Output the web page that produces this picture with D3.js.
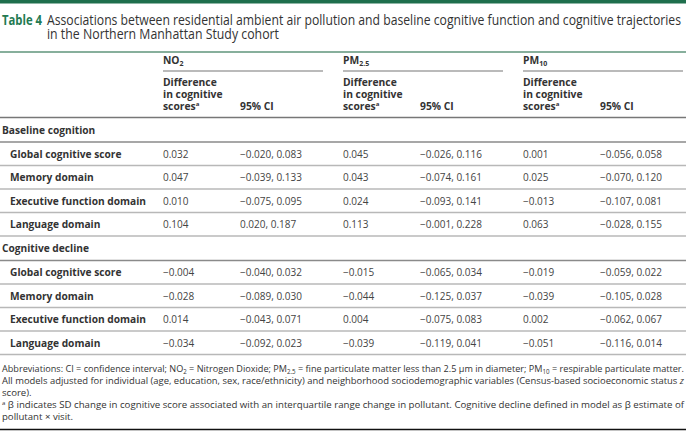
<!DOCTYPE html>
<html><head><meta charset="utf-8">
<script src="https://cdn.jsdelivr.net/npm/d3@7"></script>
<style>
html,body{margin:0;padding:0;background:#fff;}
svg{display:block;font-family:"Open Sans",sans-serif;}
</style></head>
<body>
<script>
// ---- data ----
const titleLabel = "Table 4";
const titleLines = ["Associations between residential ambient air pollution and baseline cognitive function and cognitive trajectories",
                    "in the Northern Manhattan Study cohort"];
const pollutants = [["NO", "2"], ["PM", "2.5"], ["PM", "10"]];
const sections = ["Baseline cognition", "Cognitive decline"];
const domains = ["Global cognitive score", "Memory domain", "Executive function domain", "Language domain"];
// estimates [section][domain]
const no2Est  = [[0.032, 0.047, 0.010, 0.104], [-0.004, -0.028, 0.014, -0.034]];
const no2Lo   = [[-0.020, -0.039, -0.075, 0.020], [-0.040, -0.089, -0.043, -0.092]];
const no2Hi   = [[0.083, 0.133, 0.095, 0.187], [0.032, 0.030, 0.071, 0.023]];
const pm25Est = [[0.045, 0.043, 0.024, 0.113], [-0.015, -0.044, 0.004, -0.039]];
const pm25Lo  = [[-0.026, -0.074, -0.093, -0.001], [-0.065, -0.125, -0.075, -0.119]];
const pm25Hi  = [[0.116, 0.161, 0.141, 0.228], [0.034, 0.037, 0.083, 0.041]];
const pm10Est = [[0.001, 0.025, -0.013, 0.063], [-0.019, -0.039, 0.002, -0.051]];
const pm10Lo  = [[-0.056, -0.070, -0.107, -0.028], [-0.059, -0.105, -0.062, -0.116]];
const pm10Hi  = [[0.058, 0.120, 0.081, 0.155], [0.022, 0.028, 0.067, 0.014]];
const colHeaders = [["Difference", "in cognitive", "scores"], ["95% CI"]];

const W = 686, H = 432;
const fmt = d3.format(".3f");
const series = [
  {est: no2Est, lo: no2Lo, hi: no2Hi},
  {est: pm25Est, lo: pm25Lo, hi: pm25Hi},
  {est: pm10Est, lo: pm10Lo, hi: pm10Hi}
];

const svg = d3.select("body").append("svg").attr("width", W).attr("height", H);

// scales
const xGroup = d3.scaleBand().domain(d3.range(pollutants.length)).range([163, 163 + 180 * 3]);
const xSub = d3.scaleOrdinal().domain(["est", "ci"]).range([0, 77]);

// top bar
svg.append("rect").attr("x", 0).attr("y", 0).attr("width", W).attr("height", 3.5).attr("fill", "#1f6f4d");

// title
svg.append("text").attr("x", 2).attr("y", 24.5).attr("font-size", 14.5).attr("font-weight", 700)
  .attr("fill", "#237a52").attr("textLength", 40).attr("lengthAdjust", "spacingAndGlyphs").text(titleLabel);
const tLen = [634, 232];
svg.selectAll("text.title").data(titleLines).join("text").attr("class", "title")
  .attr("x", 47).attr("y", (d, i) => 24.5 + i * 14.5).attr("font-size", 14.5).attr("fill", "#333")
  .attr("textLength", (d, i) => tLen[i]).attr("lengthAdjust", "spacingAndGlyphs")
  .text(d => d);

// header top line
svg.append("line").attr("x1", 0).attr("x2", W).attr("y1", 52).attr("y2", 52).attr("stroke", "#5f957b").attr("stroke-width", 1.5);

// pollutant headers
const pg = svg.selectAll("g.pol").data(pollutants).join("g").attr("class", "pol")
  .attr("transform", (d, i) => `translate(${xGroup(i)},0)`);
pg.append("text").attr("y", 63.5).attr("font-size", 10.3).attr("font-weight", 700).attr("fill", "#333")
  .each(function (d) {
    const t = d3.select(this);
    t.append("tspan").text(d[0]);
    t.append("tspan").attr("font-size", 7).attr("dy", 2.5).text(d[1]);
  });
pg.append("line").attr("x1", 0).attr("x2", xGroup.bandwidth() - 20).attr("y1", 71).attr("y2", 71)
  .attr("stroke", "#777").attr("stroke-width", 1.2);
pg.each(function () {
  const g = d3.select(this);
  colHeaders[0].forEach((t, j) => {
    const tx = g.append("text").attr("x", xSub("est")).attr("y", 85.5 + j * 12).attr("font-size", 10.3)
      .attr("font-weight", 700).attr("fill", "#333").text(t);
    if (j === colHeaders[0].length - 1) tx.append("tspan").attr("font-size", 6).attr("dy", -4).text("a");
  });
  g.append("text").attr("x", xSub("ci")).attr("y", 109.5).attr("font-size", 10.3).attr("font-weight", 700)
    .attr("fill", "#333").text(colHeaders[1][0]);
});

svg.append("line").attr("x1", 0).attr("x2", W).attr("y1", 117.5).attr("y2", 117.5).attr("stroke", "#777").attr("stroke-width", 1.3);

// rows layout
const rows = [];
sections.forEach((s, si) => {
  rows.push({type: "section", label: s, h: 24.5});
  domains.forEach((dm, di) => rows.push({type: "row", label: dm, si, di, h: 23.5}));
});
const tops = d3.cumsum([117.5, ...rows.map(r => r.h)]);
rows.forEach((r, i) => { r.y0 = tops[i]; r.y1 = tops[i + 1]; });
const yRow = d3.scaleLinear().domain([0, 1]);

const rg = svg.selectAll("g.row").data(rows).join("g").attr("class", "row");
rg.append("line").attr("x1", 0).attr("x2", W).attr("y1", d => d.y1).attr("y2", d => d.y1)
  .attr("stroke", d => d.type === "row" ? "#b8b8b8" : "#8a8a8a").attr("stroke-width", 1.3);
rg.append("text").attr("x", d => d.type === "section" ? 2 : 10)
  .attr("y", d => yRow.range([d.y0, d.y1])(0.5) + 3.8)
  .attr("font-size", 10.2).attr("font-weight", 700).attr("fill", "#333").text(d => d.label);
rg.filter(d => d.type === "row").each(function (d) {
  const g = d3.select(this);
  const ty = yRow.range([d.y0, d.y1])(0.5) + 3.8;
  series.forEach((s, pi) => {
    g.append("text").attr("x", xGroup(pi) + xSub("est")).attr("y", ty).attr("font-size", 10).attr("fill", "#444")
      .text(fmt(s.est[d.si][d.di]));
    g.append("text").attr("x", xGroup(pi) + xSub("ci")).attr("y", ty).attr("font-size", 10).attr("fill", "#444")
      .text(fmt(s.lo[d.si][d.di]) + ", " + fmt(s.hi[d.si][d.di]));
  });
});

// footnotes
const fs = 9.6;
const fy = d3.scaleLinear().domain([0, 1]).range([372, 384]);
const foot = svg.append("g").attr("font-size", fs).attr("fill", "#333");
const f1 = foot.append("text").attr("x", 2).attr("y", fy(0)).attr("textLength", 682).attr("lengthAdjust", "spacingAndGlyphs");
f1.append("tspan").text("Abbreviations: CI = confidence interval; NO");
f1.append("tspan").attr("font-size", 6.5).attr("dy", 2).text("2");
f1.append("tspan").attr("dy", -2).text(" = Nitrogen Dioxide; PM");
f1.append("tspan").attr("font-size", 6.5).attr("dy", 2).text("2.5");
f1.append("tspan").attr("dy", -2).text(" = fine particulate matter less than 2.5 μm in diameter; PM");
f1.append("tspan").attr("font-size", 6.5).attr("dy", 2).text("10");
f1.append("tspan").attr("dy", -2).text(" = respirable particulate matter.");
const f2 = foot.append("text").attr("x", 2).attr("y", fy(1)).attr("textLength", 682).attr("lengthAdjust", "spacingAndGlyphs");
f2.append("tspan").text("All models adjusted for individual (age, education, sex, race/ethnicity) and neighborhood sociodemographic variables (Census-based socioeconomic status ");
f2.append("tspan").attr("font-style", "italic").text("z");
foot.append("text").attr("x", 2).attr("y", fy(2)).text("score).");
const f4 = foot.append("text").attr("x", 2).attr("y", fy(3)).attr("textLength", 682).attr("lengthAdjust", "spacingAndGlyphs");
f4.append("tspan").attr("font-size", 6).attr("dy", -3.5).text("a");
f4.append("tspan").attr("dy", 3.5).text(" β indicates SD change in cognitive score associated with an interquartile range change in pollutant. Cognitive decline defined in model as β estimate of");
foot.append("text").attr("x", 2).attr("y", fy(4)).text("pollutant × visit.");

svg.append("line").attr("x1", 0).attr("x2", W).attr("y1", 429.5).attr("y2", 429.5).attr("stroke", "#111").attr("stroke-width", 1.5);
</script>
</body></html>
